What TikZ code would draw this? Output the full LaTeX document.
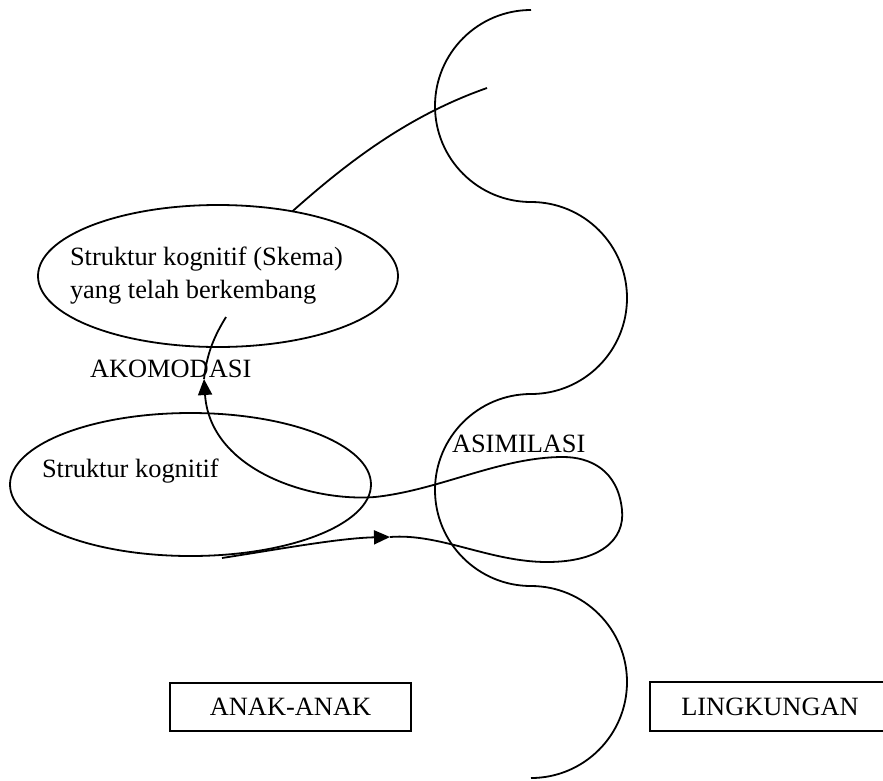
\documentclass[tikz,border=0pt]{standalone}
\usepackage{fontspec}
\setmainfont{Liberation Serif}
\usetikzlibrary{shapes.geometric,arrows.meta}
\begin{document}
\begin{tikzpicture}[x=1pt,y=-1pt,
  line/.style={draw=black,line width=1.8pt},
  lbl/.style={font=\fontsize{26.4}{33}\selectfont,inner sep=0pt,outer sep=0pt},
  oval/.style={ellipse,line,inner sep=0pt,outer sep=0pt},
  labelbox/.style={rectangle,line,inner sep=0pt,outer sep=0pt,font=\fontsize{26.4}{33}\selectfont},
  tip/.style={-{Triangle[length=16pt,width=14pt]}}]
\useasboundingbox (0,0) rectangle (883,780);

% ellipses
\node[oval,minimum width=360pt,minimum height=142pt] (topE) at (218,276) {};
\node[oval,minimum width=361pt,minimum height=143pt] (botE) at (190.5,484.5) {};

% texts
\node[lbl,anchor=base west] (t1) at (70,265) {Struktur kognitif (Skema)};
\node[lbl,anchor=base west] (t2) at (70,298) {yang telah berkembang};
\node[lbl,anchor=base west] (ako) at (90,377) {AKOMODASI};
\node[lbl,anchor=base west] (t3) at (42,477) {Struktur kognitif};
\node[lbl,anchor=base west] (asi) at (452,452) {ASIMILASI};

% boxes
\node[labelbox,minimum width=241pt,minimum height=48pt] (anak) at (290.5,707) {ANAK-ANAK};
\node[labelbox,minimum width=240pt,minimum height=49pt] (ling) at (770,706.5) {LINGKUNGAN};

% wavy boundary
\coordinate (w0) at (531,10);
\coordinate (w4) at (531,778);
\draw[line] (w0) .. controls (478,10) and (435,53) .. (435,106)
  .. controls (435,159) and (478,202) .. (531,202)
  .. controls (584,202) and (627,245) .. (627,298)
  .. controls (627,351) and (584,394) .. (531,394)
  .. controls (478,394) and (435,437) .. (435,490)
  .. controls (435,543) and (478,586) .. (531,586)
  .. controls (584,586) and (627,629) .. (627,682)
  .. controls (627,735) and (584,778) .. (w4);

% line from developed schema into the environment
\coordinate (e1) at (487,88);
\draw[line] (topE.41) .. controls (350,160) and (410,115) .. (e1);

% assimilation / accommodation loop
\coordinate (s0) at (222,558);
\coordinate (a1) at (390,537);
\coordinate (a2) at (204,379);
\coordinate (c3) at (226,317);
\draw[line,tip] (s0) .. controls (280,549) and (340,538) .. (a1);
\draw[line,tip] (a1) .. controls (440,533) and (490,562) .. (547,562)
  .. controls (600,562) and (625,540) .. (622,510)
  .. controls (618,470) and (590,457) .. (563,457)
  .. controls (500,457) and (440,490) .. (375,497)
  .. controls (310,502) and (210,470) .. (a2);
\draw[line] (a2) .. controls (207,352) and (215,335) .. (c3);
\end{tikzpicture}
\end{document}
